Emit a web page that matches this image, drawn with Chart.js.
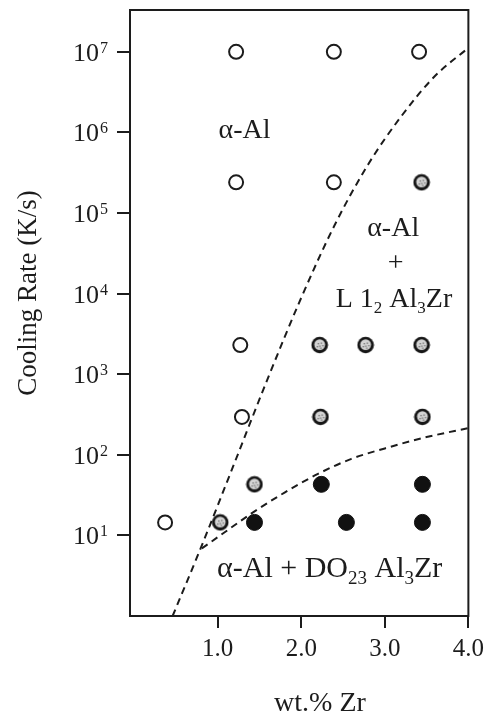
<!DOCTYPE html>
<html>
<head>
<meta charset="utf-8">
<script src="https://cdn.jsdelivr.net/npm/chart.js@4.4.1/dist/chart.umd.min.js"></script>
<style>
  html, body { margin: 0; padding: 0; background: #fff; }
  #wrap { width: 490px; height: 717px; }
</style>
</head>
<body>
<div id="wrap"><canvas id="phaseChart"></canvas></div>
<script>
// samples with no Al3Zr precipitate (open circles)
const openX = [1.22, 2.39, 3.41, 1.22, 2.39, 1.27, 1.29, 0.37];
const openY = [1e7, 1e7, 1e7, 2.4e5, 2.4e5, 2300, 295, 14.5];

// samples with metastable L12 Al3Zr (shaded circles)
const l12X = [3.44, 2.22, 2.77, 3.44, 2.23, 3.45, 1.44, 1.03];
const l12Y = [2.4e5, 2300, 2300, 2300, 295, 295, 43, 14.5];

// samples with equilibrium DO23 Al3Zr (solid circles)
const do23X = [2.24, 3.45, 1.44, 2.54, 3.45];
const do23Y = [43, 43, 14.5, 14.5, 14.5];

// upper phase boundary (dashed)
const upperX = [0.46, 0.8, 1.2, 1.6, 2.0, 2.4, 2.8, 3.2, 3.6, 4.0];
const upperY = [1, 7.1, 79, 890, 8900, 7.1e4, 4.0e5, 1.6e6, 5.0e6, 1.12e7];

// lower phase boundary (dashed)
const lowerX = [0.81, 1.0, 1.4, 1.8, 2.2, 2.6, 3.0, 3.5, 4.0];
const lowerY = [6.9, 9.5, 18.6, 34, 58, 89, 120, 166, 214];

const xTicks = [1, 2, 3, 4];
const yExponents = [1, 2, 3, 4, 5, 6, 7];

const SERIF = '"Liberation Serif", "DejaVu Serif", serif';
const INK = '#1c1c1c';

function pts(xs, ys) {
  return xs.map((x, i) => ({ x, y: ys[i] }));
}

// shaded marker: dark ring with a speckled grey centre
function makeShadedMarker() {
  const c = document.createElement('canvas');
  c.width = 18;
  c.height = 18;
  const g = c.getContext('2d');
  g.beginPath();
  g.arc(9, 9, 8.3, 0, Math.PI * 2);
  g.fillStyle = '#161616';
  g.fill();
  g.beginPath();
  g.arc(9, 8.6, 5.4, 0, Math.PI * 2);
  g.fillStyle = '#d4d4d4';
  g.fill();
  g.fillStyle = '#6a6a6a';
  [[7, 7], [10, 6.5], [8.5, 9.5], [11.5, 9], [6, 10], [9.5, 11.5]].forEach(p => {
    g.fillRect(p[0], p[1], 1.3, 1.3);
  });
  return c;
}

// text with sub/superscript pieces, parts = [[text, 'sub'|'sup'|null], ...]
function drawRich(ctx, parts, x, y, size, align) {
  const small = Math.round(size * 0.62);
  let total = 0;
  parts.forEach(p => {
    ctx.font = (p[1] ? small : size) + 'px ' + SERIF;
    total += ctx.measureText(p[0]).width;
  });
  let cx = align === 'center' ? x - total / 2 : align === 'right' ? x - total : x;
  ctx.textAlign = 'left';
  ctx.textBaseline = 'alphabetic';
  parts.forEach(p => {
    ctx.font = (p[1] ? small : size) + 'px ' + SERIF;
    let dy = 0;
    if (p[1] === 'sub') dy = size * 0.22;
    if (p[1] === 'sup') dy = -size * 0.38;
    ctx.fillText(p[0], cx, y + dy);
    cx += ctx.measureText(p[0]).width;
  });
}

const decorations = {
  id: 'decorations',
  afterDraw(chart) {
    const { ctx, chartArea: a, scales } = chart;
    const xs = scales.x, ys = scales.y;
    ctx.save();

    // plot frame
    ctx.strokeStyle = INK;
    ctx.lineWidth = 2;
    ctx.strokeRect(a.left, a.top, a.right - a.left, a.bottom - a.top);

    ctx.fillStyle = INK;

    // powers of ten on the rate axis
    yExponents.forEach(e => {
      const py = ys.getPixelForValue(Math.pow(10, e));
      ctx.font = '26px ' + SERIF;
      ctx.textAlign = 'right';
      ctx.textBaseline = 'alphabetic';
      ctx.fillText('10', 99, py + 9);
      ctx.font = '16px ' + SERIF;
      ctx.textAlign = 'left';
      ctx.fillText(String(e), 100, py + 1);
    });

    // axis titles
    ctx.font = '28px ' + SERIF;
    ctx.textAlign = 'center';
    ctx.textBaseline = 'middle';
    ctx.fillText('wt.% Zr', 320, 704);
    ctx.font = '27px ' + SERIF;
    ctx.save();
    ctx.translate(29, 293);
    ctx.rotate(-Math.PI / 2);
    ctx.fillText('Cooling Rate (K/s)', 0, 0);
    ctx.restore();

    // phase field labels
    const px = v => xs.getPixelForValue(v);
    const py = v => ys.getPixelForValue(v);
    drawRich(ctx, [['\u03B1-Al', null]], px(1.32), py(8.5e5), 28, 'center');
    drawRich(ctx, [['\u03B1-Al', null]], px(3.1), py(5.2e4), 28, 'center');
    drawRich(ctx, [['+', null]], px(3.13), py(1.9e4), 28, 'center');
    drawRich(ctx, [['L 1', null], ['2', 'sub'], [' Al', null], ['3', 'sub'], ['Zr', null]],
      px(3.11), py(6.8e3), 28, 'center');
    drawRich(ctx, [['\u03B1-Al + DO', null], ['23', 'sub'], [' Al', null], ['3', 'sub'], ['Zr', null]],
      px(2.34), py(3.05), 30, 'center');

    ctx.restore();
  }
};

document.addEventListener('DOMContentLoaded', () => {
  const ctx = document.getElementById('phaseChart').getContext('2d');
  const shaded = makeShadedMarker();

  new Chart(ctx, {
    type: 'scatter',
    data: {
      datasets: [
        {
          label: 'upper boundary',
          data: pts(upperX, upperY),
          showLine: true,
          borderColor: INK,
          borderWidth: 2,
          borderDash: [7, 5],
          pointRadius: 0,
          cubicInterpolationMode: 'monotone'
        },
        {
          label: 'lower boundary',
          data: pts(lowerX, lowerY),
          showLine: true,
          borderColor: INK,
          borderWidth: 2,
          borderDash: [7, 5],
          pointRadius: 0,
          cubicInterpolationMode: 'monotone'
        },
        {
          label: 'no precipitate',
          data: pts(openX, openY),
          pointRadius: 7,
          pointBackgroundColor: '#fff',
          pointBorderColor: INK,
          pointBorderWidth: 2
        },
        {
          label: 'L12 Al3Zr',
          data: pts(l12X, l12Y),
          pointStyle: shaded,
          pointRadius: 9
        },
        {
          label: 'DO23 Al3Zr',
          data: pts(do23X, do23Y),
          pointRadius: 8,
          pointBackgroundColor: '#111',
          pointBorderColor: '#111',
          pointBorderWidth: 1
        }
      ]
    },
    options: {
      responsive: true,
      maintainAspectRatio: false,
      animation: false,
      layout: { padding: { top: 6, right: 21, left: 0, bottom: 0 } },
      plugins: {
        legend: { display: false },
        tooltip: { enabled: false }
      },
      scales: {
        x: {
          type: 'linear',
          min: -0.05,
          max: 4.0,
          afterBuildTicks: s => { s.ticks = xTicks.map(v => ({ value: v })); },
          afterFit: s => { s.height = 101; },
          grid: {
            drawOnChartArea: false,
            drawTicks: true,
            tickLength: 12,
            color: INK,
            lineWidth: 2
          },
          border: { display: false },
          ticks: {
            color: INK,
            font: { family: SERIF, size: 25 },
            padding: 6,
            maxRotation: 0,
            callback: v => v.toFixed(1)
          }
        },
        y: {
          type: 'logarithmic',
          min: 1,
          max: 3.3e7,
          afterBuildTicks: s => { s.ticks = yExponents.map(e => ({ value: Math.pow(10, e) })); },
          afterFit: s => { s.width = 130; },
          grid: {
            drawOnChartArea: false,
            drawTicks: true,
            tickLength: 13,
            color: INK,
            lineWidth: 2
          },
          border: { display: false },
          ticks: { display: false }
        }
      }
    },
    plugins: [decorations]
  });
});
</script>
</body>
</html>
